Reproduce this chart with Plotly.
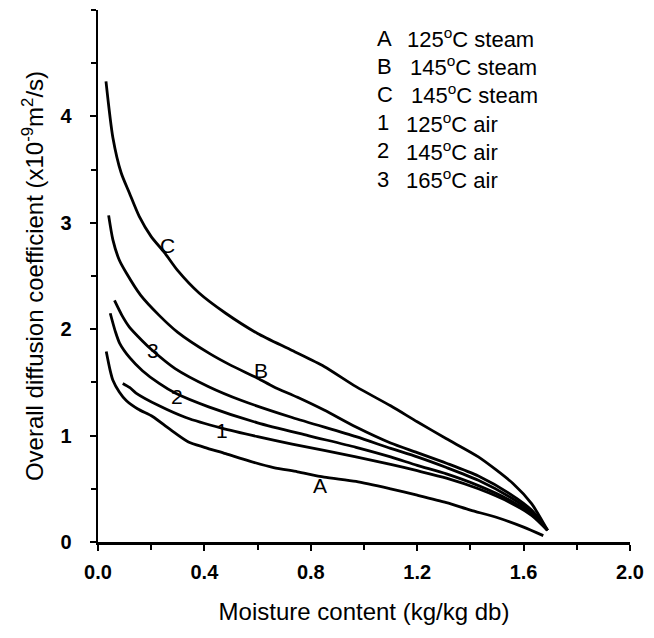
import plotly.graph_objects as go

# ---- data ----
xC = [0.03, 0.056, 0.087, 0.118, 0.155, 0.2, 0.25, 0.3, 0.38, 0.48, 0.6, 0.73, 0.85, 0.97, 1.1, 1.2, 1.31, 1.43, 1.56, 1.63, 1.69]
yC = [4.33, 3.80, 3.47, 3.28, 3.06, 2.87, 2.72, 2.55, 2.34, 2.15, 1.96, 1.80, 1.65, 1.46, 1.28, 1.13, 0.97, 0.80, 0.55, 0.36, 0.11]

xB = [0.04, 0.056, 0.08, 0.106, 0.16, 0.23, 0.30, 0.42, 0.5, 0.6, 0.66, 0.75, 0.85, 0.97, 1.1, 1.2, 1.31, 1.43, 1.55, 1.63, 1.69]
yB = [3.07, 2.84, 2.65, 2.53, 2.32, 2.13, 1.97, 1.77, 1.66, 1.54, 1.46, 1.36, 1.24, 1.08, 0.93, 0.84, 0.74, 0.62, 0.45, 0.30, 0.11]

x3 = [0.062, 0.09, 0.118, 0.167, 0.205, 0.29, 0.416, 0.54, 0.73, 0.97, 1.1, 1.2, 1.31, 1.43, 1.55, 1.63, 1.69]
y3 = [2.27, 2.13, 2.02, 1.89, 1.80, 1.63, 1.46, 1.33, 1.17, 0.99, 0.88, 0.80, 0.70, 0.58, 0.42, 0.28, 0.11]

x2 = [0.046, 0.065, 0.081, 0.12, 0.167, 0.23, 0.29, 0.416, 0.6, 0.79, 0.97, 1.1, 1.2, 1.31, 1.43, 1.55, 1.63, 1.69]
y2 = [2.15, 1.98, 1.87, 1.73, 1.61, 1.49, 1.40, 1.27, 1.12, 1.00, 0.89, 0.80, 0.72, 0.64, 0.53, 0.39, 0.26, 0.11]

x1 = [0.093, 0.12, 0.143, 0.23, 0.33, 0.465, 0.6, 0.73, 0.97, 1.1, 1.2, 1.31, 1.43, 1.55, 1.63, 1.69]
y1 = [1.49, 1.45, 1.40, 1.28, 1.17, 1.07, 0.99, 0.92, 0.80, 0.73, 0.67, 0.60, 0.50, 0.37, 0.25, 0.11]

xA = [0.031, 0.045, 0.056, 0.08, 0.106, 0.15, 0.205, 0.27, 0.34, 0.4, 0.48, 0.57, 0.66, 0.75, 0.85, 0.97, 1.1, 1.2, 1.31, 1.4, 1.5, 1.6, 1.674]
yA = [1.79, 1.62, 1.52, 1.41, 1.33, 1.25, 1.18, 1.06, 0.94, 0.89, 0.83, 0.76, 0.70, 0.66, 0.61, 0.57, 0.50, 0.44, 0.37, 0.30, 0.23, 0.14, 0.06]

curve_names = ["C", "B", "3", "2", "1", "A"]
label_x = [0.26, 0.614, 0.205, 0.297, 0.465, 0.836]
label_y = [2.79, 1.61, 1.80, 1.37, 1.05, 0.53]

legend_keys = ["A", "B", "C", "1", "2", "3"]
legend_texts = ["125<sup>o</sup>C steam", "145<sup>o</sup>C steam", "145<sup>o</sup>C steam",
                "125<sup>o</sup>C air", "145<sup>o</sup>C air", "165<sup>o</sup>C air"]

x_ticks = [0.0, 0.4, 0.8, 1.2, 1.6, 2.0]
x_ticklabels = ["0.0", "0.4", "0.8", "1.2", "1.6", "2.0"]
y_ticks = [0, 1, 2, 3, 4]
y_ticklabels = ["0", "1", "2", "3", "4"]

FONT = "Liberation Sans, Arial, sans-serif"
W, H = 654, 638
L, R, T, B = 98, 18, 10, 96
PW, PH = W - L - R, H - T - B

def px_to_paper(xp, yp):
    return (xp - L) / PW, (H - yp - B) / PH

fig = go.Figure()
for xs, ys, nm in [(xC, yC, "C"), (xB, yB, "B"), (x3, y3, "3"), (x2, y2, "2"), (x1, y1, "1"), (xA, yA, "A")]:
    fig.add_trace(go.Scatter(x=xs, y=ys, mode="lines", name=nm,
                             line=dict(color="black", width=2.8, shape="spline", smoothing=0.7),
                             showlegend=False, hoverinfo="skip"))

annotations = []
for nm, lx, ly in zip(curve_names, label_x, label_y):
    annotations.append(dict(x=lx, y=ly, xref="x", yref="y", text=nm, showarrow=False,
                            font=dict(family=FONT, size=21, color="black")))

legend_text_x = [408, 412, 413, 407, 407, 407]
for i, (k, t) in enumerate(zip(legend_keys, legend_texts)):
    ypix = 38 + i * 28.2
    kx, ky = px_to_paper(378, ypix)
    tx, ty = px_to_paper(legend_text_x[i], ypix)
    annotations.append(dict(x=kx, y=ky, xref="paper", yref="paper", text=k,
                            showarrow=False, xanchor="left", yanchor="middle",
                            font=dict(family=FONT, size=22, color="black")))
    annotations.append(dict(x=tx, y=ty, xref="paper", yref="paper", text=t,
                            showarrow=False, xanchor="left", yanchor="middle",
                            font=dict(family=FONT, size=22, color="black")))

fig.update_layout(
    width=W, height=H,
    margin=dict(l=L, r=R, t=T, b=B, pad=0),
    paper_bgcolor="white", plot_bgcolor="white",
    annotations=annotations,
    font=dict(family=FONT, color="black"),
)
fig.update_xaxes(range=[0, 2], tickvals=x_ticks, ticktext=["<b>%s</b>" % s for s in x_ticklabels],
                 showgrid=False, zeroline=False, showline=True, linecolor="black", linewidth=2.5,
                 ticks="outside", ticklen=6, tickwidth=2, tickcolor="black",
                 tickfont=dict(family=FONT, size=20, color="black"), ticklabelstandoff=4,
                 minor=dict(dtick=0.2, tick0=0, ticks="outside", ticklen=5, tickwidth=2, tickcolor="black"),
                 title=dict(text="Moisture content (kg/kg db)", font=dict(family=FONT, size=24), standoff=22))
fig.update_yaxes(range=[0, 5], tickvals=y_ticks, ticktext=["<b>%s</b>" % s for s in y_ticklabels],
                 showgrid=False, zeroline=False, showline=True, linecolor="black", linewidth=2.5,
                 ticks="outside", ticklen=6, tickwidth=2, tickcolor="black",
                 tickfont=dict(family=FONT, size=20, color="black"), ticklabelstandoff=14,
                 minor=dict(dtick=0.5, tick0=0, ticks="outside", ticklen=5, tickwidth=2, tickcolor="black"),
                 title=dict(text="Overall diffusion coefficient (x10<sup>-9</sup>m<sup>2</sup>/s)",
                            font=dict(family=FONT, size=24), standoff=10))

fig.write_html("out.html", config={"displayModeBar": False, "staticPlot": True},
               post_script="document.body.style.margin='0';document.body.style.overflow='hidden';")
